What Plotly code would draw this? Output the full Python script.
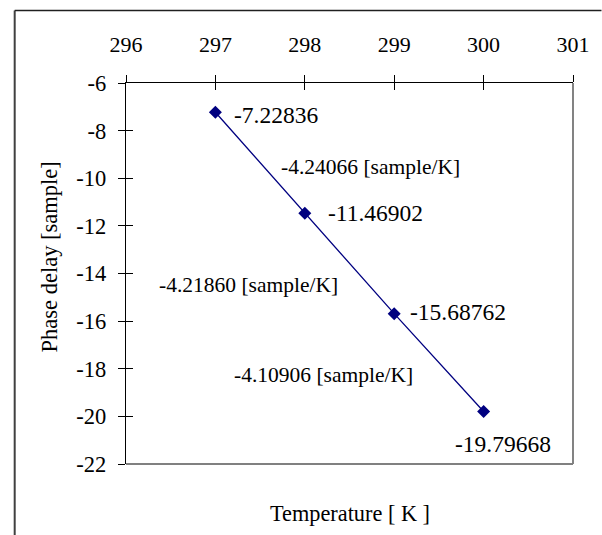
import plotly.graph_objects as go

temps = [297, 298, 299, 300]
delays = [-7.22836, -11.46902, -15.68762, -19.79668]
point_labels = ["-7.22836", "-11.46902", "-15.68762", "-19.79668"]
slope_labels = ["-4.24066 [sample/K]", "-4.21860 [sample/K]", "-4.10906 [sample/K]"]
x_ticks = [296, 297, 298, 299, 300, 301]
y_ticks = [-6, -8, -10, -12, -14, -16, -18, -20, -22]

FONT = "Liberation Serif, Times New Roman, serif"
W, H = 602, 535
L, R, T, B = 126, 581, 82.7, 464.3

fig = go.Figure()
fig.add_trace(go.Scatter(
    x=temps, y=delays, mode="lines+markers",
    line=dict(color="#000080", width=1.3),
    marker=dict(symbol="diamond", size=10, color="#000080"),
    showlegend=False, hoverinfo="skip"))
# invisible trace on overlay axes for cross ticks
fig.add_trace(go.Scatter(x=[296], y=[-6], xaxis="x2", yaxis="y2", mode="markers",
                         marker=dict(opacity=0), showlegend=False, hoverinfo="skip"))

fig.update_layout(
    width=W, height=H,
    margin=dict(l=L, r=W - R, t=T, b=H - B),
    paper_bgcolor="white", plot_bgcolor="white",
    font=dict(family=FONT, size=21, color="black"),
    xaxis=dict(range=[296, 301], side="top", tickvals=x_ticks, ticks="outside",
               ticklen=7, tickcolor="black", tickwidth=1, showgrid=False, zeroline=False,
               showline=True, linecolor="black", linewidth=1.3,
               ticklabelstandoff=14, tickfont=dict(family=FONT, size=22)),
    yaxis=dict(range=[-22, -6], tickvals=y_ticks, ticktext=[str(v) for v in y_ticks],
               ticks="outside", ticklen=7, tickcolor="black", tickwidth=1,
               showgrid=False, zeroline=False, showline=True, linecolor="black",
               linewidth=1.3, ticklabelstandoff=7, tickfont=dict(family=FONT, size=22.5)),
    xaxis2=dict(range=[296, 301], overlaying="x", side="top", tickvals=x_ticks,
                ticks="inside", ticklen=7, tickcolor="black", showticklabels=False,
                showgrid=False, zeroline=False, showline=False),
    yaxis2=dict(range=[-22, -6], overlaying="y", side="left", tickvals=y_ticks,
                ticks="inside", ticklen=7, tickcolor="black", showticklabels=False,
                showgrid=False, zeroline=False, showline=False),
)

def px2x(px):
    return (px - L) / (R - L)

def py2y(py):
    return (B - py) / (B - T)

shapes = [
    # plot-area right and bottom borders
    dict(type="line", xref="paper", yref="paper", x0=1, x1=1, y0=0, y1=1,
         line=dict(color="#404040", width=1.3)),
    dict(type="line", xref="paper", yref="paper", x0=0, x1=1, y0=0, y1=0,
         line=dict(color="#808080", width=1.8)),
    # outer chart frame
    dict(type="line", xref="paper", yref="paper", x0=px2x(12.7), x1=px2x(12.7),
         y0=py2y(540), y1=py2y(10), line=dict(color="#404040", width=2)),
    dict(type="line", xref="paper", yref="paper", x0=px2x(12.7), x1=px2x(610),
         y0=py2y(10), y1=py2y(10), line=dict(color="#202020", width=1.5)),
]
fig.update_layout(shapes=shapes)

anns = []
# point labels
offsets = [(17, -3, "left"), (21, 0, "left"), (14, 2, "left"), (-31, -32, "left")]
for x, y, t, (dx, dy, xa) in zip(temps, delays, point_labels, offsets):
    anns.append(dict(x=x, y=y, xref="x", yref="y", text=t, showarrow=False,
                     xanchor=xa, yanchor="middle", xshift=dx, yshift=dy,
                     font=dict(family=FONT, size=23.5)))
# slope labels (positioned in data coords)
slope_pos = [(298.74, -9.53), (297.37, -14.48), (298.21, -18.26)]
for (x, y), t in zip(slope_pos, slope_labels):
    anns.append(dict(x=x, y=y, xref="x", yref="y", text=t, showarrow=False,
                     xanchor="center", yanchor="middle",
                     font=dict(family=FONT, size=21.5)))
# axis titles
anns.append(dict(x=px2x(354), y=py2y(514), xref="paper", yref="paper",
                 text="Temperature [ K ]", showarrow=False, xanchor="center",
                 yanchor="middle", font=dict(family=FONT, size=22.3)))
anns.append(dict(x=px2x(48), y=py2y(257), xref="paper", yref="paper",
                 text="Phase delay [sample]", showarrow=False, textangle=-90,
                 xanchor="center", yanchor="middle", font=dict(family=FONT, size=22.5)))
fig.update_layout(annotations=anns)

fig.write_html("out.html")
